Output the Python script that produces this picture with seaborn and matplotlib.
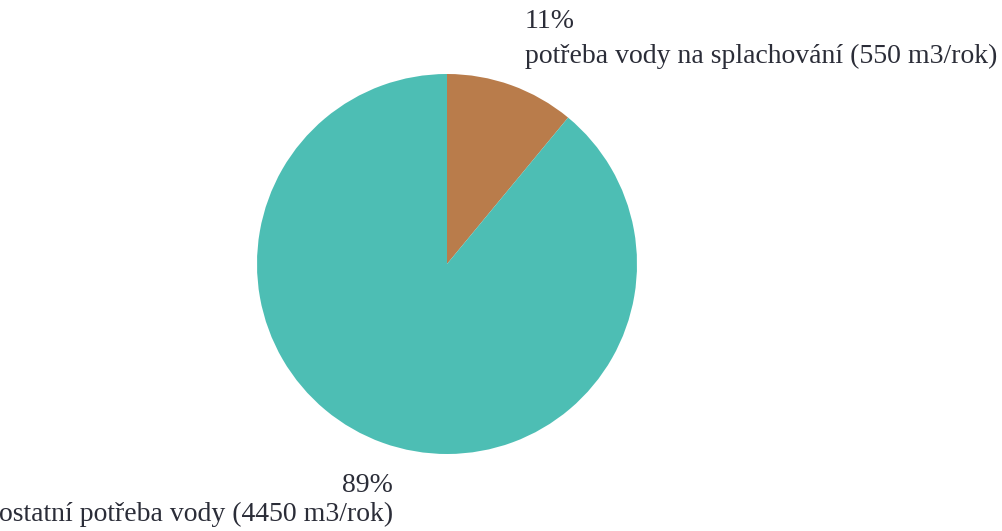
import matplotlib
matplotlib.use("Agg")
import matplotlib.pyplot as plt
import seaborn as sns

sns.set_theme(style="white")
plt.rcParams["font.family"] = ["Liberation Serif", "DejaVu Serif"]

# Water demand breakdown (m3/rok)
categories = ["potřeba vody na splachování", "ostatní potřeba vody"]
volumes = [550, 4450]
percents = ["11%", "89%"]
colors = ["#B97C4B", "#4DBEB4"]

W, H = 1003, 531
fig = plt.figure(figsize=(W / 100, H / 100), dpi=100)
fig.patch.set_facecolor("white")

cx, cy, r = 447, 264, 190
ax = fig.add_axes([(cx - r) / W, (H - cy - r) / H, 2 * r / W, 2 * r / H])
ax.pie(volumes, colors=colors, startangle=90, counterclock=False,
       radius=1.0, wedgeprops=dict(linewidth=0))
ax.set_xlim(-1, 1)
ax.set_ylim(-1, 1)
ax.set_aspect("equal")
ax.axis("off")

txt = "#2b2d38"
fs = 20
fig.text(525 / W, 1 - 22 / H, percents[0], ha="left", va="center",
         fontsize=fs, color=txt)
fig.text(525 / W, 1 - 56 / H, f"{categories[0]} ({volumes[0]} m3/rok)",
         ha="left", va="center", fontsize=fs, color=txt)
fig.text(393 / W, 1 - 485 / H, percents[1], ha="right", va="center",
         fontsize=fs, color=txt)
fig.text(393 / W, 1 - 514 / H, f"{categories[1]} ({volumes[1]} m3/rok)",
         ha="right", va="center", fontsize=fs, color=txt)

fig.savefig("out.png", dpi=100, facecolor="white")
